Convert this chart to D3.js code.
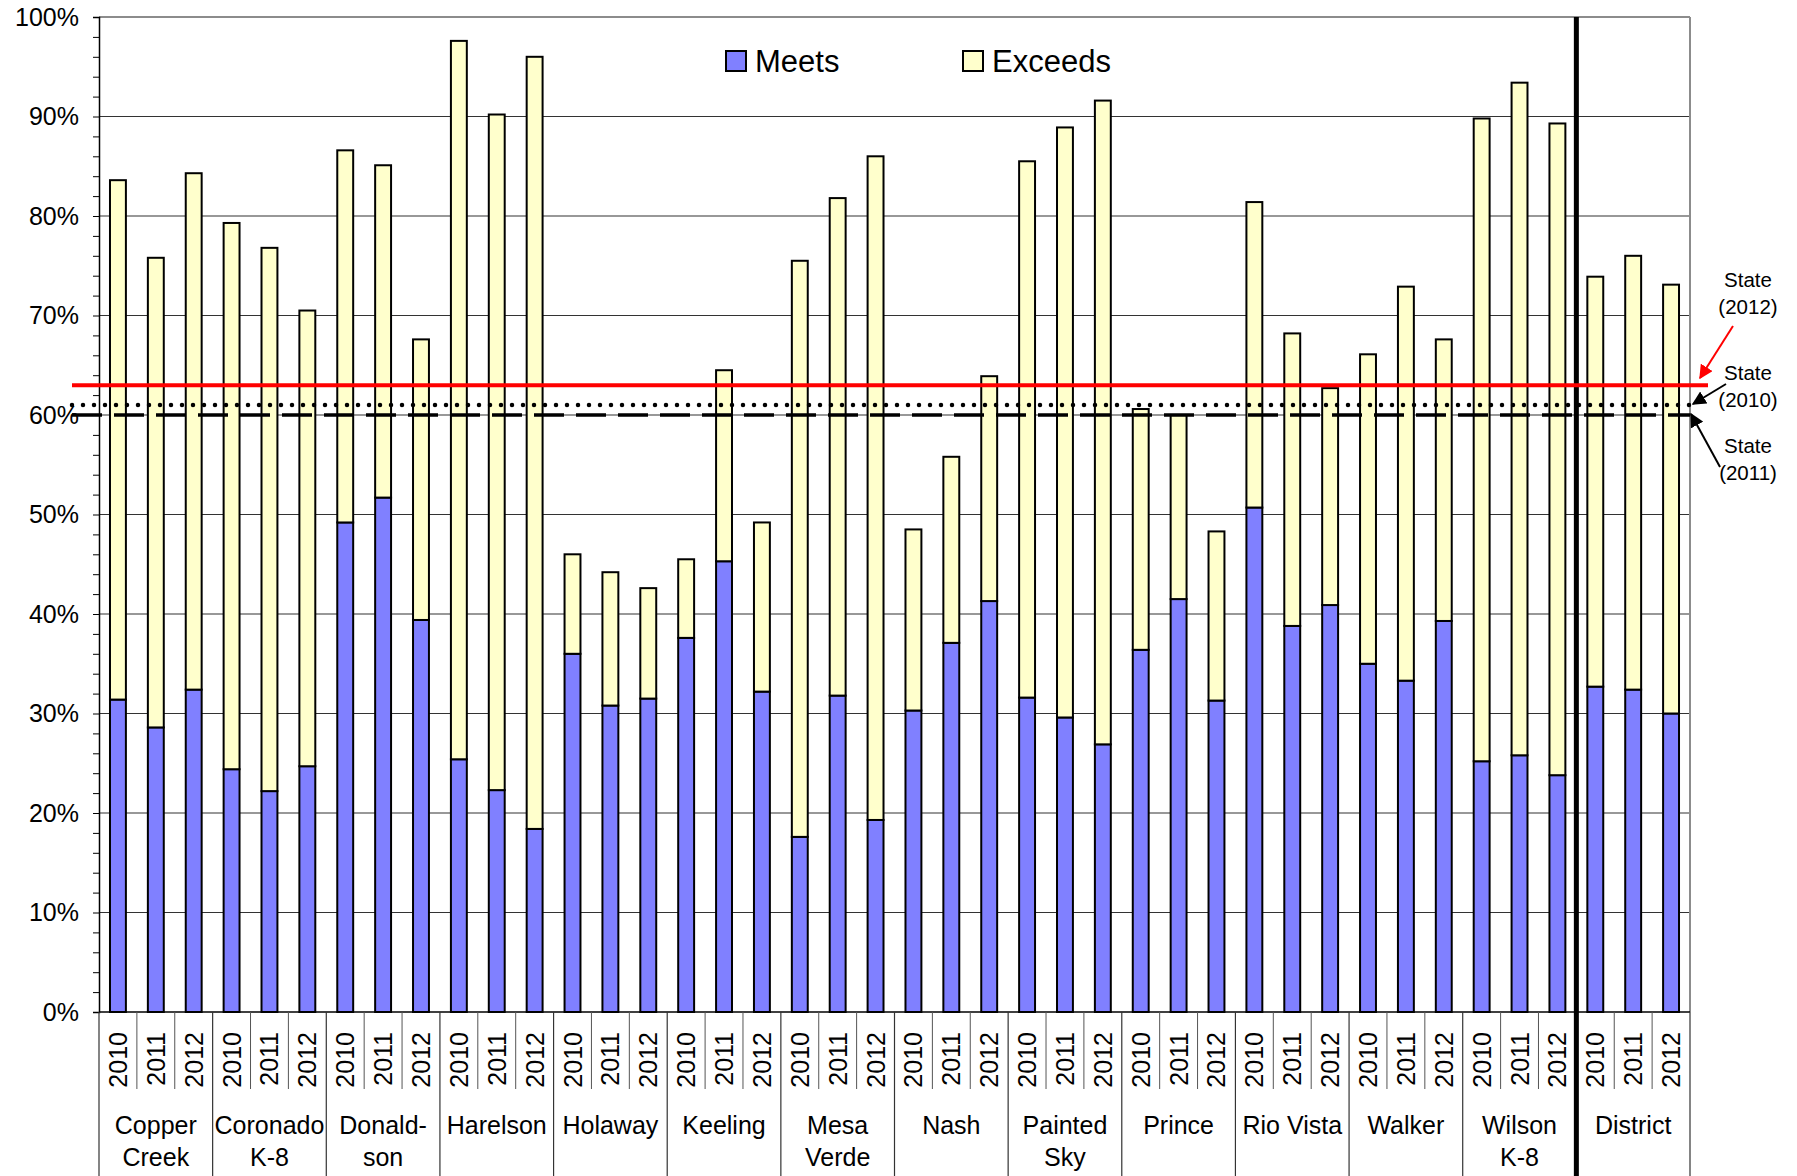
<!DOCTYPE html>
<html>
<head>
<meta charset="utf-8">
<script src="https://cdn.jsdelivr.net/npm/d3@7"></script>
<style>
  body { margin: 0; background: #fff; }
  svg { display: block; font-family: "Liberation Sans", Arial, sans-serif; }
</style>
</head>
<body>
<div id="chart"></div>
<script>
// schools and years
const schools = ["Copper Creek", "Coronado K-8", "Donald- son", "Harelson", "Holaway", "Keeling",
    "Mesa Verde", "Nash", "Painted Sky", "Prince", "Rio Vista", "Walker", "Wilson K-8", "District"];
const schoolLines = [["Copper", "Creek"], ["Coronado", "K-8"], ["Donald-", "son"], ["Harelson"], ["Holaway"],
    ["Keeling"], ["Mesa", "Verde"], ["Nash"], ["Painted", "Sky"], ["Prince"], ["Rio Vista"], ["Walker"],
    ["Wilson", "K-8"], ["District"]];
const years = ["2010", "2011", "2012"];

// percent meets, per school, 2010 / 2011 / 2012
const meets = [
    31.4, 28.6, 32.4,
    24.4, 22.2, 24.7,
    49.2, 51.7, 39.4,
    25.4, 22.3, 18.4,
    36.0, 30.8, 31.5,
    37.6, 45.3, 32.2,
    17.6, 31.8, 19.3,
    30.3, 37.1, 41.3,
    31.6, 29.6, 26.9,
    36.4, 41.5, 31.3,
    50.7, 38.8, 40.9,
    35.0, 33.3, 39.3,
    25.2, 25.8, 23.8,
    32.7, 32.4, 30.0
];
// percent exceeds
const exceeds = [
    52.2, 47.2, 51.9,
    54.9, 54.6, 45.8,
    37.4, 33.4, 28.2,
    72.2, 67.9, 77.6,
    10.0, 13.4, 11.1,
    7.9, 19.2, 17.0,
    57.9, 50.0, 66.7,
    18.2, 18.7, 22.6,
    53.9, 59.3, 64.7,
    24.2, 18.5, 17.0,
    30.7, 29.4, 21.8,
    31.1, 39.6, 28.3,
    64.6, 67.6, 65.5,
    41.2, 43.6, 43.1
];
const yTicks = [0, 10, 20, 30, 40, 50, 60, 70, 80, 90, 100];
const stateYears = ["2010", "2011", "2012"];
const stateValues = [61, 60, 63];

const W = 1797, H = 1176;
const margin = { left: 99, right: 107, top: 17, bottom: 164 };
const innerW = W - margin.left - margin.right;
const innerH = H - margin.top - margin.bottom;

const rows = [];
schools.forEach((s, i) => years.forEach((yr, j) => {
    const k = i * 3 + j;
    rows.push({ key: s + "|" + yr, school: s, year: yr, Meets: meets[k], Exceeds: exceeds[k] });
}));

const svg = d3.select("#chart").append("svg").attr("width", W).attr("height", H);
const g = svg.append("g").attr("transform", `translate(${margin.left},${margin.top})`);

const x = d3.scaleBand().domain(rows.map(d => d.key)).range([0, innerW]).paddingInner(0.58).paddingOuter(0.29);
const xGroup = d3.scaleBand().domain(schools).range([0, innerW]);
const y = d3.scaleLinear().domain([0, 100]).range([innerH, 0]);

// gridlines
g.selectAll(".grid").data(yTicks.filter(t => t > 0 && t < 100)).enter().append("line")
    .attr("x1", 0).attr("x2", innerW)
    .attr("y1", d => y(d)).attr("y2", d => y(d))
    .attr("stroke", "#333").attr("stroke-width", 1.2);
// top and right border
g.append("line").attr("x1", 0).attr("x2", innerW).attr("y1", y(100)).attr("y2", y(100))
    .attr("stroke", "#8c8c8c").attr("stroke-width", 2);
g.append("line").attr("x1", innerW).attr("x2", innerW).attr("y1", 0).attr("y2", innerH)
    .attr("stroke", "#8c8c8c").attr("stroke-width", 2);

// stacked bars
const stack = d3.stack().keys(["Meets", "Exceeds"]);
const color = d3.scaleOrdinal().domain(["Meets", "Exceeds"]).range(["#8080ff", "#ffffcc"]);
g.selectAll(".layer").data(stack(rows)).enter().append("g")
    .attr("fill", d => color(d.key))
    .selectAll("rect").data(d => d).enter().append("rect")
    .attr("x", d => x(d.data.key))
    .attr("width", x.bandwidth())
    .attr("y", d => y(d[1]))
    .attr("height", d => y(d[0]) - y(d[1]))
    .attr("stroke", "#000").attr("stroke-width", 2);

// left axis with minor ticks
const yAxis = d3.axisLeft(y).tickValues(d3.range(0, 101, 2)).tickSize(6).tickFormat("");
const ya = g.append("g").call(yAxis);
ya.select(".domain").attr("stroke", "#000").attr("stroke-width", 1.5);
ya.selectAll(".tick line").attr("stroke", "#000");
g.selectAll(".ylab").data(yTicks).enter().append("text")
    .attr("x", -20).attr("y", d => y(d)).attr("dy", "0.35em")
    .attr("text-anchor", "end").attr("font-size", 25).text(d => d + "%");

// bottom axis
g.append("line").attr("x1", 0).attr("x2", innerW).attr("y1", innerH).attr("y2", innerH)
    .attr("stroke", "#000").attr("stroke-width", 1.5);

// year separators and labels
const step = x.step();
rows.forEach((d, i) => {
    if (i % 3 !== 0) {
        const sx = x(d.key) - x.bandwidth() * 0 - (step - x.bandwidth()) / 2;
        g.append("line").attr("x1", sx).attr("x2", sx).attr("y1", innerH).attr("y2", innerH + 77)
            .attr("stroke", "#555").attr("stroke-width", 1);
    }
});
g.selectAll(".yearlab").data(rows).enter().append("text")
    .attr("transform", d => `translate(${x(d.key) + x.bandwidth() / 2 + 9},${innerH + 20}) rotate(-90)`)
    .attr("text-anchor", "end").attr("font-size", 25).text(d => d.year);

// group separators and labels
schools.forEach((s, i) => {
    const gx = xGroup(s);
    g.append("line").attr("x1", gx).attr("x2", gx).attr("y1", innerH).attr("y2", H - margin.top)
        .attr("stroke", "#333").attr("stroke-width", 1.2);
    schoolLines[i].forEach((t, j) => {
        g.append("text").attr("x", gx + xGroup.bandwidth() / 2).attr("y", innerH + 122 + j * 32)
            .attr("text-anchor", "middle").attr("font-size", 25).text(t);
    });
});
g.append("line").attr("x1", innerW).attr("x2", innerW).attr("y1", innerH).attr("y2", H - margin.top)
    .attr("stroke", "#333").attr("stroke-width", 1.2);

// thick district separator
const dx = xGroup("District");
g.append("line").attr("x1", dx).attr("x2", dx).attr("y1", 0).attr("y2", H - margin.top)
    .attr("stroke", "#000").attr("stroke-width", 5);

// state reference lines
const styles = {
    "2010": { stroke: "#000", width: 4.5, dash: "0 11", cap: "round", x2: innerW + 4 },
    "2011": { stroke: "#000", width: 3.5, dash: "30 12", cap: "butt", x2: innerW },
    "2012": { stroke: "#ff0000", width: 4, dash: null, cap: "butt", x2: innerW + 18 }
};
stateYears.forEach((yr, i) => {
    const st = styles[yr];
    g.append("line").attr("x1", -27).attr("x2", st.x2)
        .attr("y1", y(stateValues[i])).attr("y2", y(stateValues[i]))
        .attr("stroke", st.stroke).attr("stroke-width", st.width)
        .attr("stroke-dasharray", st.dash).attr("stroke-linecap", st.cap);
});

// annotations
const defs = svg.append("defs");
[["arrRed", "#ff0000"], ["arrBlack", "#000"]].forEach(([id, c]) => {
    defs.append("marker").attr("id", id).attr("viewBox", "0 0 10 10").attr("refX", 9).attr("refY", 5)
        .attr("markerWidth", 7).attr("markerHeight", 7).attr("orient", "auto")
        .append("path").attr("d", "M0,0 L10,5 L0,10 Z").attr("fill", c);
});
const notes = [
    { lines: ["State", "(2012)"], ty: 287, from: [1733, 326], to: [1700, 378], color: "#ff0000", m: "arrRed" },
    { lines: ["State", "(2010)"], ty: 380, from: [1726, 384], to: [1693, 404], color: "#000", m: "arrBlack" },
    { lines: ["State", "(2011)"], ty: 453, from: [1720, 467], to: [1691, 414], color: "#000", m: "arrBlack" }
];
notes.forEach(n => {
    n.lines.forEach((t, j) => {
        svg.append("text").attr("x", 1748).attr("y", n.ty + j * 27).attr("text-anchor", "middle")
            .attr("font-size", 20.5).attr("fill", "#000").text(t);
    });
    svg.append("line").attr("x1", n.from[0]).attr("y1", n.from[1]).attr("x2", n.to[0]).attr("y2", n.to[1])
        .attr("stroke", n.color).attr("stroke-width", 2).attr("marker-end", `url(#${n.m})`);
});

// legend
const legend = svg.append("g");
[["Meets", 726], ["Exceeds", 963]].forEach(([k, lx]) => {
    legend.append("rect").attr("x", lx).attr("y", 51).attr("width", 20).attr("height", 20)
        .attr("fill", color(k)).attr("stroke", "#000").attr("stroke-width", 2);
    legend.append("text").attr("x", lx + 29).attr("y", 72).attr("font-size", 31).text(k);
});
</script>
</body>
</html>
